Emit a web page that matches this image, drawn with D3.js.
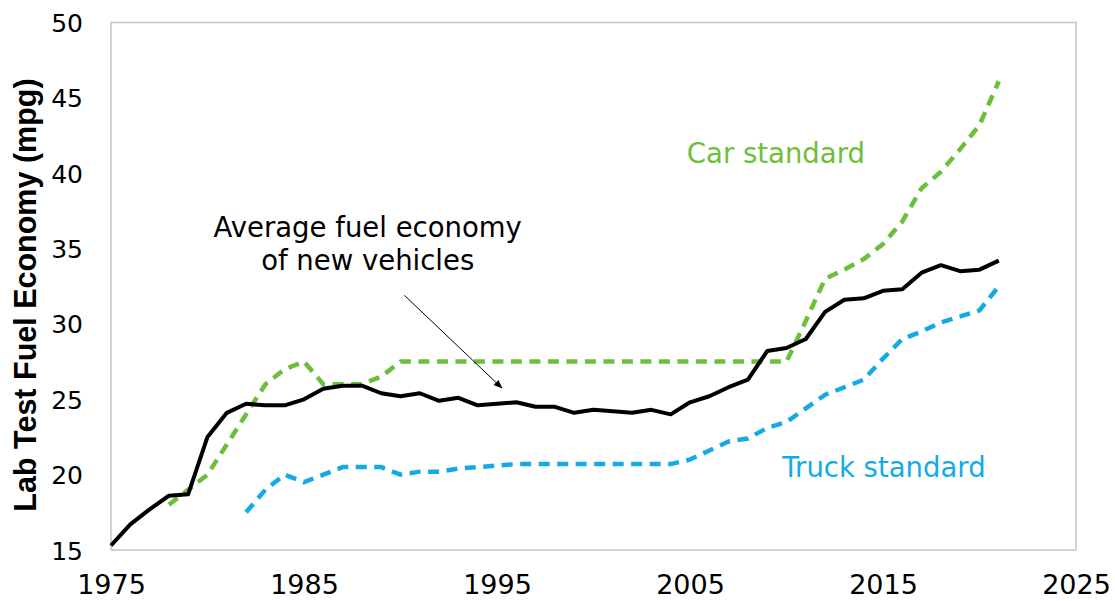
<!DOCTYPE html>
<html>
<head>
<meta charset="utf-8">
<script src="https://cdn.jsdelivr.net/npm/d3@7"></script>
<style>
  html, body { margin: 0; padding: 0; background: #ffffff; }
  svg { display: block; }
</style>
</head>
<body>
<svg id="chart" width="1115" height="601"></svg>
<script>
// ---- data ----
const avgYears = d3.range(1975, 2022);
const avgValues = [15.3, 16.7, 17.7, 18.6, 18.7, 22.5, 24.1, 24.7, 24.6, 24.6,
  25.0, 25.7, 25.9, 25.9, 25.4, 25.2, 25.4, 24.9, 25.1, 24.6,
  24.7, 24.8, 24.5, 24.5, 24.1, 24.3, 24.2, 24.1, 24.3, 24.0,
  24.8, 25.2, 25.8, 26.3, 28.2, 28.4, 29.0, 30.8, 31.6, 31.7,
  32.2, 32.3, 33.4, 33.9, 33.5, 33.6, 34.2];

const carYears = d3.range(1978, 2022);
const carValues = [18.0, 19.0, 20.0, 22.0, 24.0, 26.0, 27.0, 27.5, 26.0, 26.0,
  26.0, 26.5, 27.5, 27.5, 27.5, 27.5, 27.5, 27.5, 27.5, 27.5,
  27.5, 27.5, 27.5, 27.5, 27.5, 27.5, 27.5, 27.5, 27.5, 27.5,
  27.5, 27.5, 27.5, 30.2, 33.0, 33.6, 34.3, 35.3, 36.8, 39.0,
  40.1, 41.6, 43.2, 46.1];

const truckYears = d3.range(1982, 2022);
const truckValues = [17.5, 19.0, 20.0, 19.5, 20.0, 20.5, 20.5, 20.5, 20.0, 20.2,
  20.2, 20.4, 20.5, 20.6, 20.7, 20.7, 20.7, 20.7, 20.7, 20.7,
  20.7, 20.7, 20.7, 21.0, 21.6, 22.2, 22.4, 23.1, 23.5, 24.4,
  25.3, 25.8, 26.3, 27.7, 29.0, 29.5, 30.1, 30.5, 30.9, 32.5];

const xTicks = [1975, 1985, 1995, 2005, 2015, 2025];
const yTicks = [15, 20, 25, 30, 35, 40, 45, 50];

const yAxisTitle = "Lab Test Fuel Economy (mpg)";
const labelAvg = ["Average fuel economy", "of new vehicles"];
const labelCar = "Car standard";
const labelTruck = "Truck standard";

// annotation anchors in data units (year, mpg)
const avgLabelPos = [1988.3, 35.8, 33.6];
const arrowFrom = [1990.2, 31.9];
const arrowTo = [1995.25, 25.75];
const carLabelPos = [2009.45, 40.68];
const truckLabelPos = [2015.05, 19.86];

// ---- layout ----
const colorCar = "#6cbf3b";
const colorTruck = "#13aae6";
const font = "'DejaVu Sans', 'Noto Sans', sans-serif";

const svg = d3.select("#chart");
const pL = 111, pT = 22.5, pR = 1076, pB = 550;

const x = d3.scaleLinear().domain([1975, 2025]).range([pL, pR]);
const y = d3.scaleLinear().domain([15, 50]).range([pB, pT]);

// frame
svg.append("rect")
  .attr("x", pL).attr("y", pT)
  .attr("width", pR - pL).attr("height", pB - pT)
  .attr("fill", "none").attr("stroke", "#c4c4c4").attr("stroke-width", 1.5);

// axes (labels only)
const yAxis = d3.axisLeft(y).tickValues(yTicks).tickSize(0).tickPadding(28)
  .tickFormat(d3.format("d"));
const gy = svg.append("g").attr("transform", `translate(${pL},0)`).call(yAxis);
gy.select(".domain").remove();
gy.selectAll("text").attr("font-family", font).attr("font-size", 25)
  .attr("fill", "#000").attr("dy", "0.36em");

const xAxis = d3.axisBottom(x).tickValues(xTicks).tickSize(0).tickPadding(25)
  .tickFormat(d3.format("d"));
const gx = svg.append("g").attr("transform", `translate(0,${pB})`).call(xAxis);
gx.select(".domain").remove();
gx.selectAll("text").attr("font-family", font).attr("font-size", 27)
  .attr("fill", "#000");

// y axis title
svg.append("text")
  .attr("transform", `translate(35.5,295) rotate(-90)`)
  .attr("text-anchor", "middle")
  .attr("font-family", "'Liberation Sans', Arial, sans-serif")
  .attr("font-weight", "bold").attr("font-size", 30.5)
  .attr("fill", "#000")
  .text(yAxisTitle);

// lines
const line = d3.line().x(d => x(d[0])).y(d => y(d[1]));

svg.append("path")
  .datum(d3.zip(carYears, carValues))
  .attr("d", line)
  .attr("fill", "none").attr("stroke", colorCar).attr("stroke-width", 4.5)
  .attr("stroke-dasharray", "11,7.5").attr("stroke-linejoin", "round");

svg.append("path")
  .datum(d3.zip(truckYears, truckValues))
  .attr("d", line)
  .attr("fill", "none").attr("stroke", colorTruck).attr("stroke-width", 4.5)
  .attr("stroke-dasharray", "11,7.5").attr("stroke-linejoin", "round");

svg.append("path")
  .datum(d3.zip(avgYears, avgValues))
  .attr("d", line)
  .attr("fill", "none").attr("stroke", "#000").attr("stroke-width", 4)
  .attr("stroke-linejoin", "round");

// annotations
svg.append("defs").append("marker")
  .attr("id", "arrow").attr("viewBox", "0 0 10 10")
  .attr("refX", 9).attr("refY", 5)
  .attr("markerWidth", 9).attr("markerHeight", 9)
  .attr("markerUnits", "userSpaceOnUse")
  .attr("orient", "auto")
  .append("path").attr("d", "M0,1 L10,5 L0,9 Z").attr("fill", "#000");

svg.append("line")
  .attr("x1", x(arrowFrom[0])).attr("y1", y(arrowFrom[1]))
  .attr("x2", x(arrowTo[0])).attr("y2", y(arrowTo[1]))
  .attr("stroke", "#000").attr("stroke-width", 1)
  .attr("marker-end", "url(#arrow)");

const avgText = svg.append("text")
  .attr("text-anchor", "middle")
  .attr("font-family", font).attr("font-size", 27.5).attr("fill", "#000");
avgText.append("tspan").attr("x", x(avgLabelPos[0])).attr("y", y(avgLabelPos[1])).text(labelAvg[0]);
avgText.append("tspan").attr("x", x(avgLabelPos[0])).attr("y", y(avgLabelPos[2])).text(labelAvg[1]);

svg.append("text")
  .attr("x", x(carLabelPos[0])).attr("y", y(carLabelPos[1]))
  .attr("text-anchor", "middle")
  .attr("font-family", font).attr("font-size", 27.5).attr("fill", colorCar)
  .text(labelCar);

svg.append("text")
  .attr("x", x(truckLabelPos[0])).attr("y", y(truckLabelPos[1]))
  .attr("text-anchor", "middle")
  .attr("font-family", font).attr("font-size", 27.5).attr("fill", colorTruck)
  .text(labelTruck);
</script>
</body>
</html>
